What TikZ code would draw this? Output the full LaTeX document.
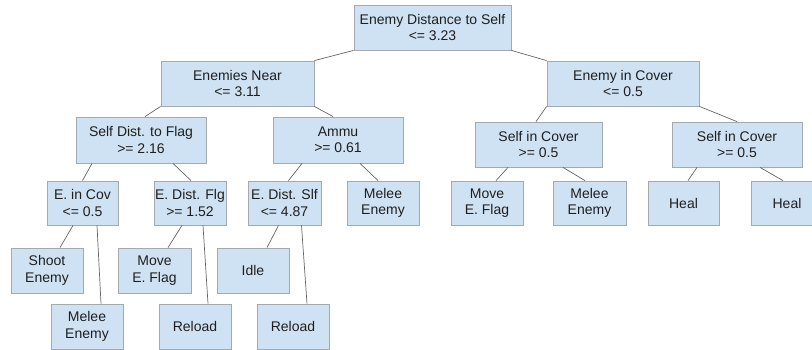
\documentclass[tikz,border=0pt]{standalone}
\usepackage{fontspec}
\setmainfont{Liberation Sans}
\definecolor{boxfill}{HTML}{CFE2F3}
\definecolor{boxline}{HTML}{A2A9AF}
\definecolor{edgeline}{HTML}{666666}
\definecolor{boxtext}{HTML}{1F1F1F}
\tikzset{
  box/.style={draw=boxline, fill=boxfill, line width=0.8pt, align=center, inner sep=0pt,
    text=boxtext, font=\fontsize{14}{16.5}\selectfont, minimum height=45pt},
  leaf/.style={box, minimum width=72pt, minimum height=44pt},
  edge/.style={draw=edgeline, line width=0.7pt}
}
\begin{document}
\begin{tikzpicture}[x=1pt, y=-1pt]
\useasboundingbox (0,0) rectangle (812,350);
% top of the tree
\node[box, minimum width=157pt] (root) at (432.5, 27.5) {Enemy Distance to Self\\\textless= 3.23};
\node[box, minimum width=153pt] (near) at (237.5, 83.5) {Enemies Near\\\textless= 3.11};
\node[box, minimum width=152pt] (ecover) at (623, 83.5) {Enemy in Cover\\\textless= 0.5};
% second level
\node[box, minimum width=130pt, minimum height=46pt] (sdflag) at (141, 140) {Self Dist. to Flag\\\textgreater= 2.16};
\node[box, minimum width=130pt, minimum height=46pt] (ammu) at (338, 140) {Ammu\\\textgreater= 0.61};
\node[box, minimum width=127pt] (scoverA) at (538.5, 144.5) {Self in Cover\\\textgreater= 0.5};
\node[box, minimum width=130pt] (scoverB) at (737, 144.5) {Self in Cover\\\textgreater= 0.5};
% third level
\node[leaf, minimum width=71pt] (eincov) at (82.5, 203) {E. in Cov\\\textless= 0.5};
\node[leaf] (edflg) at (190, 203) {E. Dist. Flg\\\textgreater= 1.52};
\node[leaf, minimum width=73pt] (edslf) at (284.5, 203) {E. Dist. Slf\\\textless= 4.87};
\node[leaf] (meleeA) at (383, 203) {Melee\\Enemy};
\node[leaf] (moveA) at (487, 203) {Move\\E. Flag};
\node[leaf, minimum width=73pt] (meleeB) at (589.5, 203) {Melee\\Enemy};
\node[leaf, minimum width=71pt] (healA) at (683.5, 203) {Heal};
\node[leaf] (healB) at (787, 203) {Heal};
% fourth level
\node[leaf, minimum width=72pt, minimum height=45pt] (shoot) at (47, 270.5) {Shoot\\Enemy};
\node[leaf, minimum width=73pt, minimum height=45pt] (moveB) at (154.5, 270.5) {Move\\E. Flag};
\node[leaf, minimum width=72pt, minimum height=45pt] (idle) at (253, 270.5) {Idle};
% bottom row
\node[leaf, minimum height=45pt] (meleeC) at (87, 326.5) {Melee\\Enemy};
\node[leaf, minimum height=45pt] (reloadA) at (195, 326.5) {Reload};
\node[leaf, minimum height=45pt] (reloadB) at (293, 326.5) {Reload};
% connectors
\draw[edge] (root.south west) -- (near.north east);
\draw[edge] (root.south east) -- (ecover.north west);
\draw[edge] (near.south west) -- ([xshift=4pt]sdflag.north);
\draw[edge] (near.south east) -- ([xshift=-5pt]ammu.north);
\draw[edge] (ecover.south west) -- ([xshift=-2.5pt]scoverA.north);
\draw[edge] (ecover.south east) -- (scoverB.north);
\draw[edge] ([xshift=-49pt]sdflag.south) -- (eincov.north);
\draw[edge] ([xshift=32pt]sdflag.south) -- ([xshift=1pt]edflg.north);
\draw[edge] ([xshift=-36pt]ammu.south) -- ([xshift=4pt]edslf.north);
\draw[edge] ([xshift=22pt]ammu.south) -- ([xshift=-5pt]meleeA.north);
\draw[edge] ([xshift=-30.5pt]scoverA.south) -- ([xshift=9pt]moveA.north);
\draw[edge] ([xshift=24.5pt]scoverA.south) -- ([xshift=-4.5pt]meleeB.north);
\draw[edge] ([xshift=-40pt]scoverB.south) -- ([xshift=4.5pt]healA.north);
\draw[edge] ([xshift=23pt]scoverB.south) -- ([xshift=-4pt]healB.north);
\draw[edge] ([xshift=-9.5pt]eincov.south) -- ([xshift=13pt]shoot.north);
\draw[edge] ([xshift=14.5pt]eincov.south) -- ([xshift=14pt]meleeC.north);
\draw[edge] ([xshift=-8pt]edflg.south) -- ([xshift=13.5pt]moveB.north);
\draw[edge] ([xshift=13pt]edflg.south) -- ([xshift=13pt]reloadA.north);
\draw[edge] ([xshift=-6pt]edslf.south) -- ([xshift=14pt]idle.north);
\draw[edge] ([xshift=17pt]edslf.south) -- ([xshift=14pt]reloadB.north);
\end{tikzpicture}
\end{document}
